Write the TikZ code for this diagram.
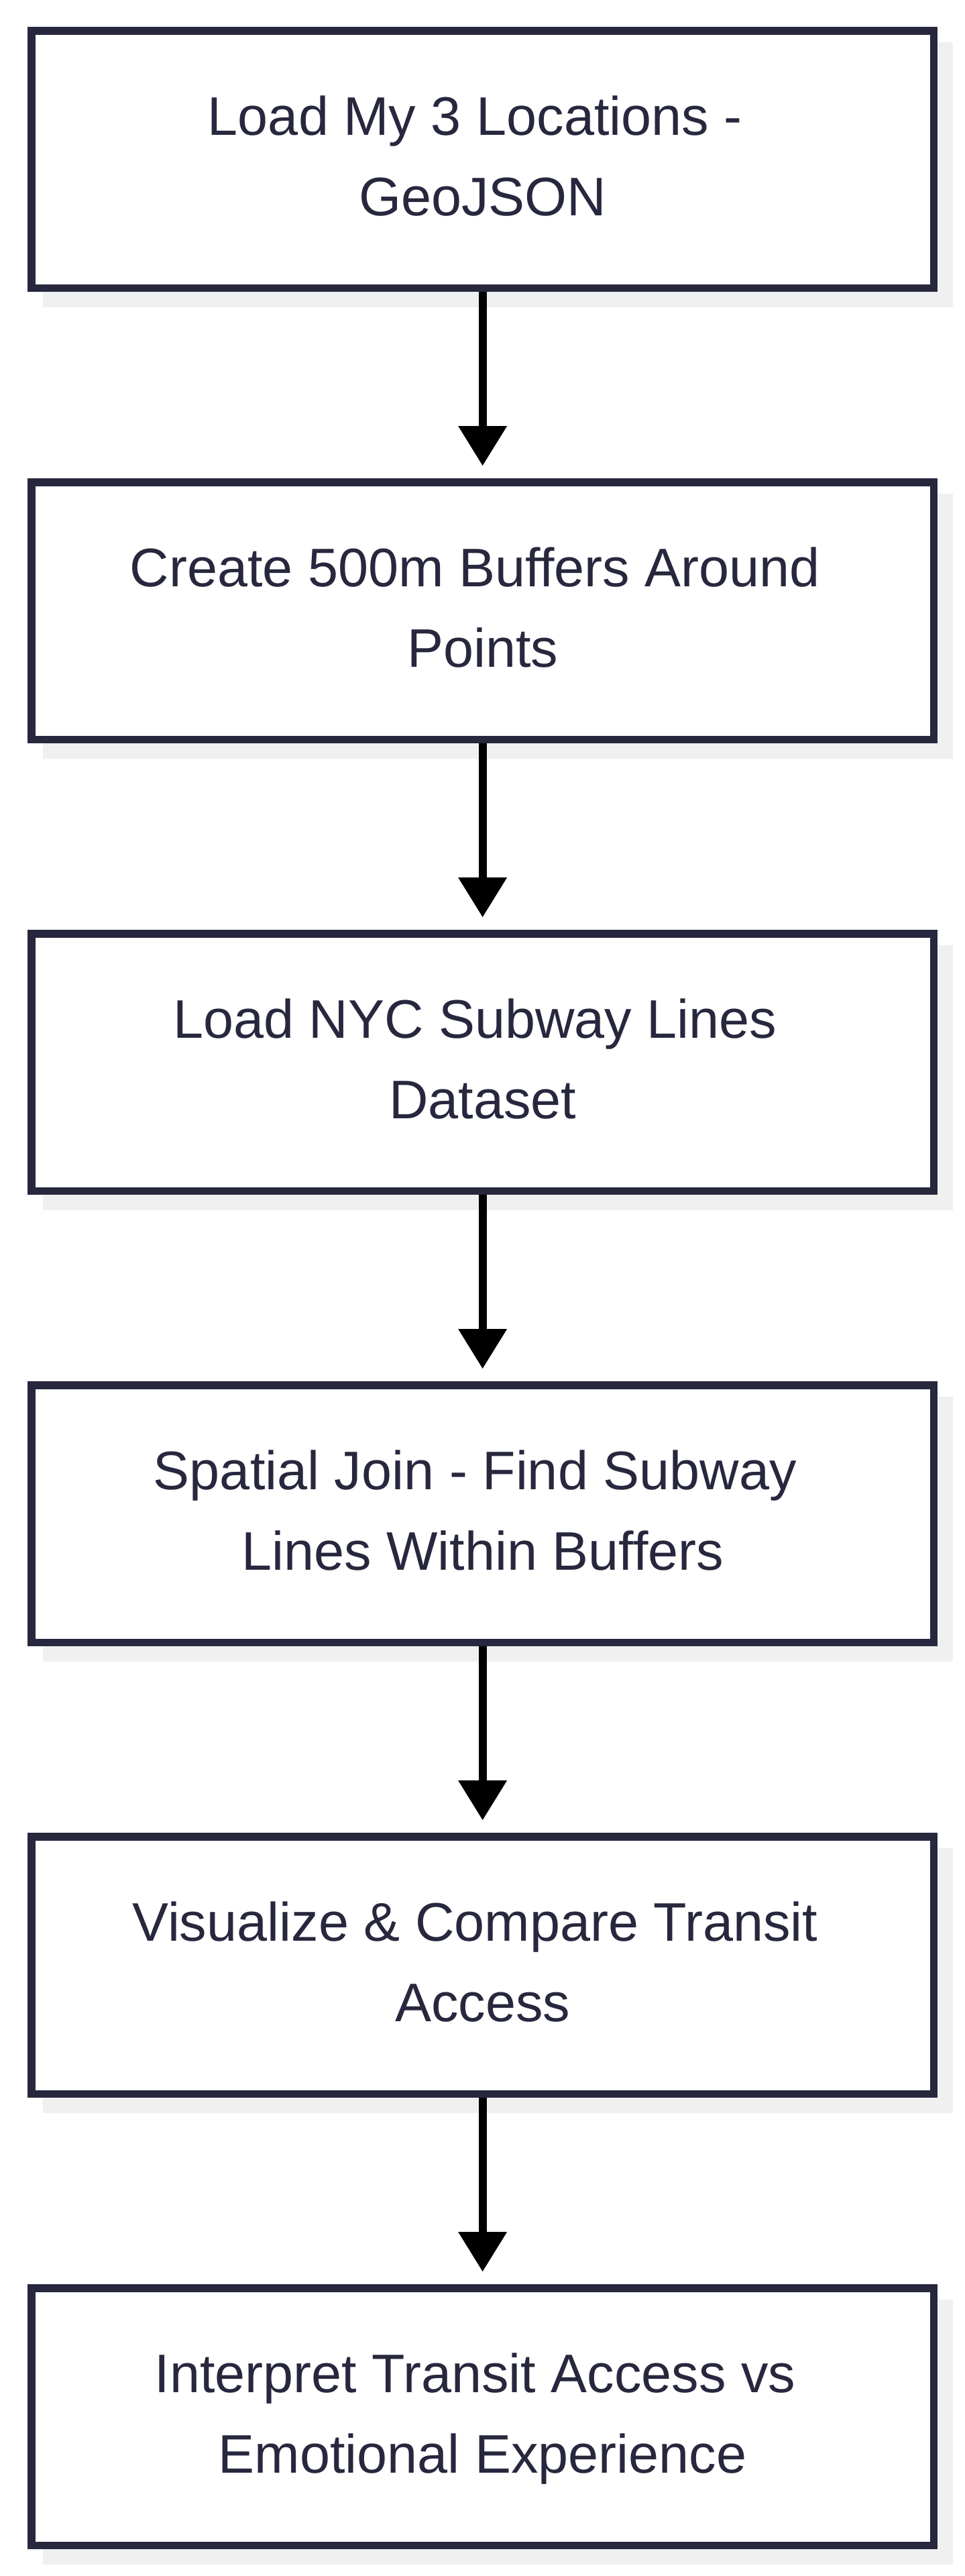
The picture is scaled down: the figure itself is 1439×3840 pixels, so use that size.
\documentclass[tikz,border=0pt]{standalone}
\usepackage{fontspec}
\setmainfont{Liberation Sans}
\usetikzlibrary{arrows.meta,shadows}
\definecolor{boxline}{HTML}{27283E}
\definecolor{shadowgray}{HTML}{F0F0F0}
\newcommand\tsp{\hphantom{\ }}
\begin{document}
\begin{tikzpicture}[x=0.5pt,y=-0.5pt,
 stepbox/.style={draw=boxline, line width=5.75pt, fill=white, text=boxline,
   minimum width=672.75pt, minimum height=191.75pt, inner sep=0pt, align=center,
   font=\fontsize{40.5pt}{60pt}\selectfont,
   drop shadow={shadow xshift=11.5pt, shadow yshift=-11.5pt, fill=shadowgray,
     draw=shadowgray, line width=5.75pt, opacity=1}},
 flow/.style={draw=black, line width=6pt,
   -{Triangle[width=36.5pt,length=29.5pt,line width=0pt]}, shorten >=9.5pt}]
\useasboundingbox (0,0) rectangle (1439,3840);
\node[stepbox] (n1) at (719.65,237.5) {\strut Load My 3 Locations -\tsp\\\strut GeoJSON};
\node[stepbox] (n2) at (719.65,910.5) {\strut Create 500m Buffers Around\tsp\\\strut Points};
\node[stepbox] (n3) at (719.65,1583.5) {\strut Load NYC Subway Lines\tsp\\\strut Dataset};
\node[stepbox] (n4) at (719.65,2256.5) {\strut Spatial Join - Find Subway\tsp\\\strut Lines Within Buffers};
\node[stepbox] (n5) at (719.65,2929.5) {\strut Visualize \& Compare Transit\tsp\\\strut Access};
\node[stepbox] (n6) at (719.65,3602.5) {\strut Interpret Transit Access vs\tsp\\\strut Emotional Experience};
\draw[flow] (n1) -- (n2);
\draw[flow] (n2) -- (n3);
\draw[flow] (n3) -- (n4);
\draw[flow] (n4) -- (n5);
\draw[flow] (n5) -- (n6);
\end{tikzpicture}
\end{document}
